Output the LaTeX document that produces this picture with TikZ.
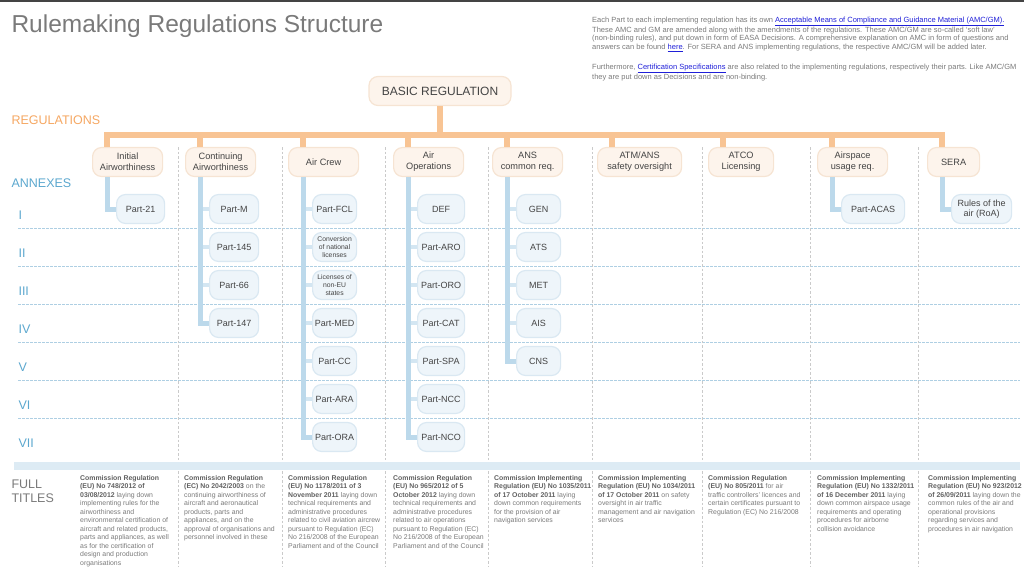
\documentclass[tikz,border=0pt]{standalone}
\usepackage{fontspec}
\setmainfont{Liberation Sans}
\usetikzlibrary{positioning, calc}
\definecolor{cgrey}{HTML}{7A7A7A}
\definecolor{cdark}{HTML}{444444}
\definecolor{corange}{HTML}{F8C494}
\definecolor{ctxtorange}{HTML}{F5A762}
\definecolor{cpeach}{HTML}{FDF4EC}
\definecolor{cpeachline}{HTML}{F6E4D3}
\definecolor{cblue}{HTML}{BCD9EB}
\definecolor{cstub}{HTML}{D3E6F2}
\definecolor{cbluetxt}{HTML}{5BA7CE}
\definecolor{cicefill}{HTML}{EEF5FA}
\definecolor{ciceline}{HTML}{DAE8F2}
\definecolor{cgrid}{HTML}{AECFE3}
\definecolor{csep}{HTML}{CACACA}
\definecolor{cband}{HTML}{DDEBF4}
\definecolor{clink}{HTML}{1F1FD8}
\tikzset{
  every picture/.style={x=1pt, y=-1pt},
  regbox/.style={draw=cpeachline, fill=cpeach, line width=1.2pt, rounded corners=9pt, align=center, font=\fontsize{9.2}{11}\selectfont, text=cdark, minimum height=29pt, inner xsep=4pt, anchor=west},
  partbox/.style={draw=ciceline, fill=cicefill, line width=1.2pt, rounded corners=9pt, align=center, font=\fontsize{9}{10.5}\selectfont, text=cdark, minimum height=29pt, inner xsep=2pt, inner ysep=1pt, anchor=west},
  partsmall/.style={partbox, font=\fontsize{6.8}{8}\selectfont},
  regline/.style={draw=corange, line width=6pt},
  annexline/.style={draw=cblue, line width=5pt},
  annexstub/.style={draw=cstub, line width=4pt},
  rowline/.style={draw=cgrid, dash pattern=on 2.5pt off 1.5pt, line width=0.9pt},
  colline/.style={draw=csep, dash pattern=on 2.5pt off 2pt, line width=0.8pt},
  side/.style={anchor=west, font=\fontsize{12.5}{14}\selectfont},
  fulltitle/.style={anchor=north west, align=left, font=\fontsize{6.9}{8.5}\selectfont, text=cgrey, inner sep=0pt},
}
\newcommand{\lnk}[1]{\textcolor{clink}{\underline{#1}}}
\newcommand{\bt}[1]{\textbf{\color{cdark!85}#1}}

\begin{document}
\begin{tikzpicture}
  \useasboundingbox (0,0) rectangle (1024,571);
  \draw[cdark, line width=1.5pt] (0,0.75) -- (1024,0.75);
  % heading and notes
  \node[anchor=west, font=\fontsize{24.5}{28}\selectfont, text=cgrey] (title) at (8,26) {Rulemaking Regulations Structure};
  \node[anchor=north west, align=left, inner sep=0pt, font=\fontsize{7.5}{8.7}\selectfont, text=cgrey] (intro) at (592,16.5) {Each Part to each implementing regulation has its own \lnk{Acceptable Means of Compliance and Guidance Material (AMC/GM).}\\
    These AMC and GM are amended along with the amendments of the regulations. These AMC/GM are so-called `soft law'\\
    (non-binding rules), and put down in form of EASA Decisions. A comprehensive explanation on AMC in form of questions and\\
    answers can be found \lnk{here}. For SERA and ANS implementing regulations, the respective AMC/GM will be added later.\\[11.3pt]
    Furthermore, \lnk{Certification Specifications} are also related to the implementing regulations, respectively their parts. Like AMC/GM\\
    they are put down as Decisions and are non-binding.};
  % grid
  \foreach \y in {228,266,304,342,380,418} \draw[rowline] (18,\y) -- (1020,\y);
  \foreach \x in {178,282,385,488,592,702,810,918} \draw[colline] (\x,147) -- (\x,567);
  \fill[cband] (14,462) rectangle (1020,470);
  % side labels
  \node[side, text=ctxtorange] (reglab) at (8,120) {REGULATIONS};
  \node[side, text=cbluetxt] (annlab) at (8,183) {ANNEXES};
  \foreach \r/\rn in {1/I, 2/II, 3/III, 4/IV, 5/V, 6/VI, 7/VII}
    \node[side, text=cbluetxt] (a\r) at (15,177+38*\r) {\rn};
  \node[side, text=cgrey, align=left] (fulllab) at (8,491) {FULL\\TITLES};
  % regulations
  \node[regbox, anchor=center, minimum width=142pt, font=\fontsize{12}{14}\selectfont] (basic) at (440,91) {BASIC REGULATION};
  \coordinate (bar) at (440,135);
  \foreach \i/\x/\w/\txt in {1/92/70/{Initial\\Airworthiness}, 2/185/70/{Continuing\\Airworthiness}, 3/288/70/{Air Crew}, 4/393/70/{Air\\Operations}, 5/492/70/{ANS\\common req.}, 6/597/84/{ATM/ANS\\safety oversight}, 7/708/65/{ATCO\\Licensing}, 8/817/70/{Airspace\\usage req.}, 9/927/52/{SERA}} {
    \node[regbox, minimum width=\w pt] (h\i) at (\x,162) {\txt};
    \coordinate (d\i) at (\x+15,135);
    \draw[regline] (d\i) -- (d\i |- h\i.north);
  }
  \draw[regline, line cap=rect] (d1) -- (d9);
  \draw[regline] (basic.south) -- (bar);
  % annexes
  \foreach \c/\r/\w/\sty/\txt in {1/1/48/partbox/Part-21,
    2/1/49/partbox/Part-M, 2/2/49/partbox/Part-145, 2/3/49/partbox/Part-66, 2/4/49/partbox/Part-147,
    3/1/44/partbox/Part-FCL, 3/2/44/partsmall/{Conversion\\of national\\licenses}, 3/3/44/partsmall/{Licenses of\\non-EU\\states}, 3/4/44/partbox/Part-MED, 3/5/44/partbox/Part-CC, 3/6/44/partbox/Part-ARA, 3/7/44/partbox/Part-ORA,
    4/1/47/partbox/DEF, 4/2/47/partbox/Part-ARO, 4/3/47/partbox/Part-ORO, 4/4/47/partbox/Part-CAT, 4/5/47/partbox/Part-SPA, 4/6/47/partbox/Part-NCC, 4/7/47/partbox/Part-NCO,
    5/1/44/partbox/GEN, 5/2/44/partbox/ATS, 5/3/44/partbox/MET, 5/4/44/partbox/AIS, 5/5/44/partbox/CNS,
    8/1/63/partbox/Part-ACAS, 9/1/60/partbox/{Rules of the\\air (RoA)}} {
    \node[\sty, minimum width=\w pt] (p\c-\r) at ($(d\c)+(9,36+38*\r)$) {\txt};
    \draw[annexstub] (d\c |- p\c-\r.west) -- (p\c-\r.west);
  }
  \foreach \c/\n in {1/1, 2/4, 3/7, 4/7, 5/5, 8/1, 9/1}
    \draw[annexline] (d\c |- h\c.south) |- (p\c-\n.west);
  % full titles
  \foreach \c/\x/\txt in {
    1/80/{\bt{Commission Regulation}\\ \bt{(EU) No 748/2012 of}\\ \bt{03/08/2012} laying down\\ implementing rules for the\\ airworthiness and\\ environmental certification of\\ aircraft and related products,\\ parts and appliances, as well\\ as for the certification of\\ design and production\\ organisations},
    2/184/{\bt{Commission Regulation}\\ \bt{(EC) No 2042/2003} on the\\ continuing airworthiness of\\ aircraft and aeronautical\\ products, parts and\\ appliances, and on the\\ approval of organisations and\\ personnel involved in these},
    3/288/{\bt{Commission Regulation}\\ \bt{(EU) No 1178/2011 of 3}\\ \bt{November 2011} laying down\\ technical requirements and\\ administrative procedures\\ related to civil aviation aircrew\\ pursuant to Regulation (EC)\\ No 216/2008 of the European\\ Parliament and of the Council},
    4/393/{\bt{Commission Regulation}\\ \bt{(EU) No 965/2012 of 5}\\ \bt{October 2012} laying down\\ technical requirements and\\ administrative procedures\\ related to air operations\\ pursuant to Regulation (EC)\\ No 216/2008 of the European\\ Parliament and of the Council},
    5/494/{\bt{Commission Implementing}\\ \bt{Regulation (EU) No 1035/2011}\\ \bt{of 17 October 2011} laying\\ down common requirements\\ for the provision of air\\ navigation services},
    6/598/{\bt{Commission Implementing}\\ \bt{Regulation (EU) No 1034/2011}\\ \bt{of 17 October 2011} on safety\\ oversight in air traffic\\ management and air navigation\\ services},
    7/708/{\bt{Commission Regulation}\\ \bt{(EU) No 805/2011} for air\\ traffic controllers' licences and\\ certain certificates pursuant to\\ Regulation (EC) No 216/2008},
    8/817/{\bt{Commission Implementing}\\ \bt{Regulation (EU) No 1332/2011}\\ \bt{of 16 December 2011} laying\\ down common airspace usage\\ requirements and operating\\ procedures for airborne\\ collision avoidance},
    9/928/{\bt{Commission Implementing}\\ \bt{Regulation (EU) No 923/2012}\\ \bt{of 26/09/2011} laying down the\\ common rules of the air and\\ operational provisions\\ regarding services and\\ procedures in air navigation}}
    \node[fulltitle] (ft\c) at (\x,475) {\txt};
\end{tikzpicture}
\end{document}
